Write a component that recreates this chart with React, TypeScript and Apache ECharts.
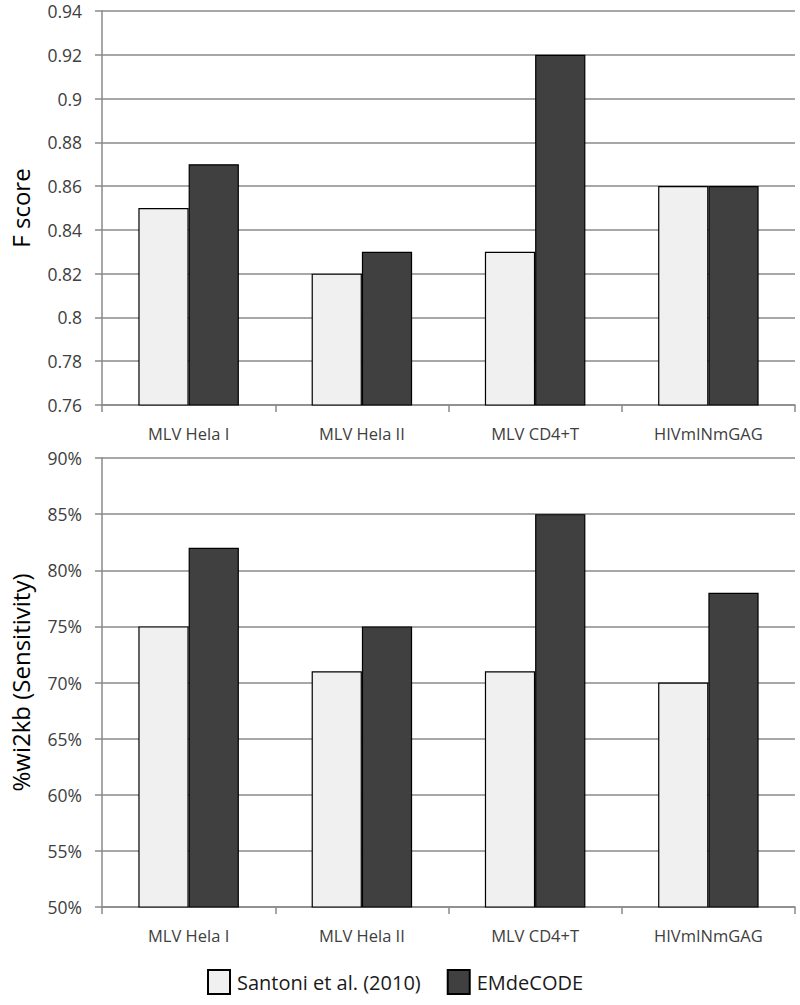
import React, { useEffect, useRef } from "react";
import * as echarts from "echarts";

const categories = ["MLV Hela I", "MLV Hela II", "MLV CD4+T", "HIVmINmGAG"];
const seriesNames = ["Santoni et al. (2010)", "EMdeCODE"];
const fScoreSantoni = [0.85, 0.82, 0.83, 0.86];
const fScoreEMdeCODE = [0.87, 0.83, 0.92, 0.86];
const sensSantoni = [75, 71, 71, 70];
const sensEMdeCODE = [82, 75, 85, 78];

const FONT = "'Open Sans', 'DejaVu Sans', sans-serif";
const LIGHT = "#f0f0f0";
const DARK = "#404040";
const GRIDC = "#8a8a8a";
const TXT = "#404040";

export default function App() {
  const ref = useRef<HTMLDivElement>(null);
  useEffect(() => {
    if (!ref.current) return;
    const chart = echarts.init(ref.current, undefined, { renderer: "svg" });
    const xAxisBase = (gridIndex: number) => ({
      type: "category" as const,
      gridIndex,
      data: categories,
      axisLine: { show: true, lineStyle: { color: GRIDC, width: 1.5 } },
      axisTick: { show: true, length: 7, lineStyle: { color: GRIDC, width: 1.5 } },
      axisLabel: { color: TXT, fontSize: 16.5, fontFamily: FONT, margin: 20 },
      splitLine: { show: false },
    });
    const yAxisBase = (gridIndex: number) => ({
      type: "value" as const,
      gridIndex,
      nameLocation: "middle" as const,
      nameGap: 70,
      nameTextStyle: { color: "#000", fontSize: 24, fontFamily: FONT },
      axisLine: { show: true, lineStyle: { color: GRIDC, width: 1.5 } },
      axisTick: { show: true, length: 7, lineStyle: { color: GRIDC, width: 1.5 } },
      splitLine: { show: true, lineStyle: { color: GRIDC, width: 1.5 } },
    });
    const barStyle = (c: string) => ({ color: c, borderColor: "#000", borderWidth: 1.2 });
    chart.setOption({
      animation: false,
      backgroundColor: "#fff",
      grid: [
        { left: 97, right: 5, top: 11, height: 394 },
        { left: 97, right: 5, top: 458, height: 449 },
      ],
      legend: {
        data: seriesNames,
        left: 202,
        top: 964,
        itemWidth: 22,
        itemHeight: 24,
        itemGap: 26,
        icon: "rect",
        textStyle: { color: "#1a1a1a", fontSize: 20, fontFamily: FONT, padding: [0, 0, 0, 2] },
      },
      xAxis: [xAxisBase(0), xAxisBase(1)],
      yAxis: [
        {
          ...yAxisBase(0),
          name: "F score",
          min: 0.76,
          max: 0.94,
          interval: 0.02,
          axisLabel: {
            color: TXT,
            fontSize: 17.5,
            fontFamily: FONT,
            margin: 20,
            formatter: (v: number) => String(parseFloat(v.toFixed(2))),
          },
        },
        {
          ...yAxisBase(1),
          name: "%wi2kb (Sensitivity)",
          min: 50,
          max: 90,
          interval: 5,
          axisLabel: {
            color: TXT,
            fontSize: 17.5,
            fontFamily: FONT,
            margin: 20,
            formatter: (v: number) => `${Math.round(v)}%`,
          },
        },
      ],
      series: [
        {
          name: seriesNames[0],
          type: "bar",
          xAxisIndex: 0,
          yAxisIndex: 0,
          data: fScoreSantoni,
          barWidth: "29%",
          barGap: "0%",
          itemStyle: barStyle(LIGHT),
        },
        {
          name: seriesNames[1],
          type: "bar",
          xAxisIndex: 0,
          yAxisIndex: 0,
          data: fScoreEMdeCODE,
          barWidth: "29%",
          barGap: "0%",
          itemStyle: barStyle(DARK),
        },
        {
          name: seriesNames[0],
          type: "bar",
          xAxisIndex: 1,
          yAxisIndex: 1,
          data: sensSantoni,
          barWidth: "29%",
          barGap: "0%",
          itemStyle: barStyle(LIGHT),
        },
        {
          name: seriesNames[1],
          type: "bar",
          xAxisIndex: 1,
          yAxisIndex: 1,
          data: sensEMdeCODE,
          barWidth: "29%",
          barGap: "0%",
          itemStyle: barStyle(DARK),
        },
      ],
    });
    return () => chart.dispose();
  }, []);
  return (
    <div
      ref={ref}
      style={{ position: "fixed", left: 0, top: 0, width: 800, height: 1005, background: "#fff" }}
    />
  );
}
